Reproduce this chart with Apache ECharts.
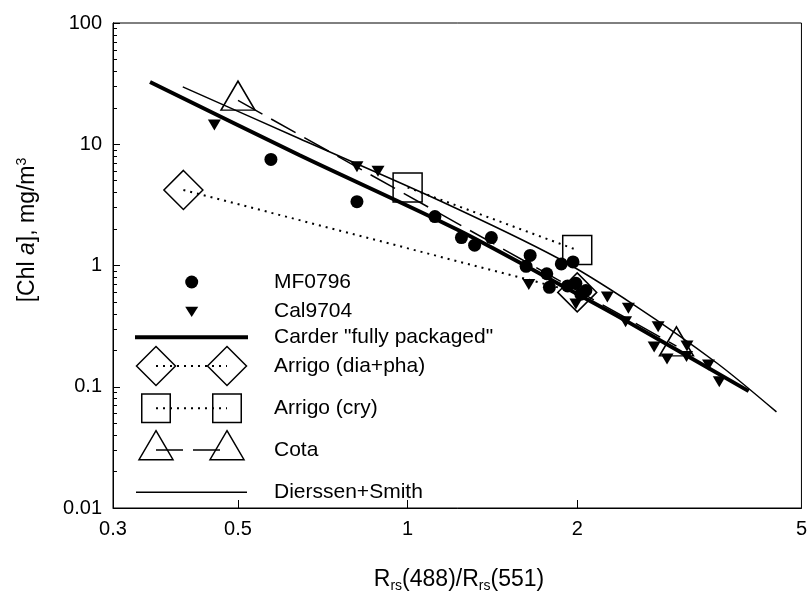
<!DOCTYPE html>
<html>
<head>
<meta charset="utf-8">
<script src="https://cdn.jsdelivr.net/npm/echarts@6/dist/echarts.min.js"></script>
<style>
  html, body { margin: 0; padding: 0; background: #fff; }
  #chart { width: 810px; height: 594px; }
</style>
</head>
<body>
<div id="chart"></div>
<script>
const FONT = '"Liberation Sans", Arial, Helvetica, sans-serif';

// Axis ticks and labels (ratio and concentration units)
const xTickLabels = [0.3, 0.5, 1, 2, 5];
const xTickMarks = [0.5, 1, 2];
const yTickLabels = [0.01, 0.1, 1, 10, 100];

// Field data: MF0796 cruise
const mf0796X = [0.572, 0.813, 1.118, 1.246, 1.315, 1.408, 1.650, 1.623, 1.766, 1.785, 1.874, 1.966, 1.923, 1.989, 2.072, 2.03];
const mf0796Y = [7.5, 3.36, 2.53, 1.70, 1.47, 1.70, 1.21, 0.985, 0.855, 0.661, 1.03, 1.07, 0.678, 0.713, 0.622, 0.58];

// Field data: Cal9704 cruise
const cal9704X = [0.454, 0.813, 0.886, 1.641, 1.989, 2.262, 2.465, 2.437, 2.784, 2.739, 2.887, 3.132, 3.126, 3.42, 3.574];
const cal9704Y = [14.4, 6.53, 6.0, 0.697, 0.481, 0.55, 0.444, 0.344, 0.313, 0.213, 0.169, 0.217, 0.178, 0.151, 0.110];

// Carder "fully packaged" algorithm curve
const carderX = [0.349, 0.642, 1.229, 2.0, 2.425, 4.03];
const carderY = [32.6, 8.15, 1.96, 0.582, 0.356, 0.092];

// Arrigo model end points
const arrigoDiaX = [0.4, 2.0];
const arrigoDiaY = [4.2, 0.6];
const arrigoCryX = [1.0, 2.0];
const arrigoCryY = [4.4, 1.34];

// Cota model end points
const cotaX = [0.5, 3.0];
const cotaY = [23, 0.216];

// Dierssen+Smith algorithm curve
const dierssenX = [0.399, 0.642, 1.133, 1.846, 2.525, 3.538, 4.515];
const dierssenY = [29.7, 11.15, 3.47, 1.153, 0.472, 0.157, 0.062];

const legendNames = ['MF0796', 'Cal9704', 'Carder "fully packaged"', 'Arrigo (dia+pha)', 'Arrigo (cry)', 'Cota', 'Dierssen+Smith'];

const L = Math.log10;
const pairs = (xs, ys) => xs.map((x, i) => [L(x), L(ys[i])]);
const fmt = v => String(parseFloat(Math.pow(10, v).toPrecision(3)));

// minor ticks at 2..9 within each decade
const yMinor = [];
for (let d = -2; d < 2; d++) {
  for (let k = 2; k <= 9; k++) yMinor.push(L(k * Math.pow(10, d)));
}

const black = '#000';
const hollow = { color: 'rgba(0,0,0,0)', borderColor: black, borderWidth: 1.5, opacity: 1 };

const series = [
  {
    name: legendNames[6], type: 'line', data: pairs(dierssenX, dierssenY),
    showSymbol: false, smooth: 0.3, lineStyle: { color: black, width: 1.5 }, z: 2
  },
  {
    name: legendNames[2], type: 'line', data: pairs(carderX, carderY),
    showSymbol: false, smooth: 0.3, lineStyle: { color: black, width: 4 }, z: 3
  },
  {
    name: legendNames[5], type: 'line', data: pairs(cotaX, cotaY),
    symbol: 'triangle', symbolSize: [34, 29], symbolOffset: [0, -4.8],
    itemStyle: hollow, lineStyle: { color: black, width: 1.5, type: [28, 10] }, z: 4
  },
  {
    name: legendNames[3], type: 'line', data: pairs(arrigoDiaX, arrigoDiaY),
    symbol: 'diamond', symbolSize: 39,
    itemStyle: hollow, lineStyle: { color: black, width: 2, type: [2, 5] }, z: 4
  },
  {
    name: legendNames[4], type: 'line', data: pairs(arrigoCryX, arrigoCryY),
    symbol: 'rect', symbolSize: 29,
    itemStyle: hollow, lineStyle: { color: black, width: 2, type: [2, 5] }, z: 4
  },
  {
    name: legendNames[0], type: 'scatter', data: pairs(mf0796X, mf0796Y),
    symbol: 'circle', symbolSize: 13, itemStyle: { color: black, opacity: 1 }, z: 5
  },
  {
    name: legendNames[1], type: 'scatter', data: pairs(cal9704X, cal9704Y),
    symbol: 'triangle', symbolRotate: 180, symbolSize: [13, 11], itemStyle: { color: black, opacity: 1 }, z: 5
  }
];

// Hand-laid legend block inside the plot area
const legendTextX = 274;
const legendRowsY = [282, 311.7, 337.3, 366, 408.3, 450, 492.3];
const symL = 156, symR = 227;
const graphics = [];
legendNames.forEach((name, i) => {
  graphics.push({
    type: 'text', x: legendTextX, y: legendRowsY[i],
    style: { text: name, font: '21px ' + FONT, fill: black, align: 'left', verticalAlign: 'middle' }
  });
});
const gStroke = { stroke: black, lineWidth: 1.5, fill: null };
// MF0796
graphics.push({ type: 'circle', shape: { cx: 191.7, cy: legendRowsY[0], r: 6.5 }, style: { fill: black } });
// Cal9704
graphics.push({ type: 'polygon', shape: { points: [[185.2, 306.7], [198.2, 306.7], [191.7, 317]] }, style: { fill: black } });
// Carder
graphics.push({ type: 'line', shape: { x1: 135, y1: legendRowsY[2], x2: 248, y2: legendRowsY[2] }, style: { stroke: black, lineWidth: 4 } });
// Arrigo (dia+pha)
{
  const y = legendRowsY[3], h = 19.5;
  graphics.push({ type: 'line', shape: { x1: symL, y1: y, x2: symR, y2: y }, style: { stroke: black, lineWidth: 2, lineDash: [2, 5] } });
  [symL, symR].forEach(cx => graphics.push({
    type: 'polygon', shape: { points: [[cx, y - h], [cx + h, y], [cx, y + h], [cx - h, y]] }, style: gStroke
  }));
}
// Arrigo (cry)
{
  const y = 408.2, s = 28.5;
  graphics.push({ type: 'line', shape: { x1: symL, y1: y, x2: symR, y2: y }, style: { stroke: black, lineWidth: 2, lineDash: [2, 5] } });
  [symL, symR].forEach(cx => graphics.push({
    type: 'rect', shape: { x: cx - s / 2, y: y - s / 2, width: s, height: s }, style: gStroke
  }));
}
// Cota
{
  const y = legendRowsY[5], w = 34, h = 29;
  graphics.push({ type: 'line', shape: { x1: symL, y1: y, x2: symR, y2: y }, style: { stroke: black, lineWidth: 1.5, lineDash: [27, 10] } });
  [symL, symR].forEach(cx => graphics.push({
    type: 'polygon', shape: { points: [[cx, y - h * 2 / 3], [cx + w / 2, y + h / 3], [cx - w / 2, y + h / 3]] }, style: gStroke
  }));
}
// Dierssen+Smith
graphics.push({ type: 'line', shape: { x1: 136, y1: legendRowsY[6], x2: 247, y2: legendRowsY[6] }, style: { stroke: black, lineWidth: 1.5 } });

// Axis titles
graphics.push({
  type: 'text', x: 28, y: 230, rotation: Math.PI / 2,
  style: {
    text: '{n|[Chl }{i|a}{n|], mg/m}{s|3}',
    rich: {
      n: { fontSize: 23, fontFamily: FONT, lineHeight: 26, fill: black },
      i: { fontSize: 23, fontFamily: FONT, fontStyle: 'italic', lineHeight: 26, fill: black },
      s: { fontSize: 14, fontFamily: FONT, lineHeight: 8, verticalAlign: 'top', fill: black }
    },
    align: 'center', verticalAlign: 'middle', fill: black
  }
});
graphics.push({
  type: 'text', x: 459, y: 580,
  style: {
    text: '{n|R}{b|rs}{n|(488)/R}{b|rs}{n|(551)}',
    rich: {
      n: { fontSize: 23, fontFamily: FONT, lineHeight: 26, fill: black },
      b: { fontSize: 14, fontFamily: FONT, lineHeight: 6, verticalAlign: 'bottom', fill: black }
    },
    align: 'center', verticalAlign: 'middle', fill: black
  }
});

const chart = echarts.init(document.getElementById('chart'), null, { renderer: 'canvas' });
chart.setOption({
  animation: false,
  backgroundColor: '#fff',
  grid: { left: 113, right: 5, top: 23, bottom: 86, show: true, borderColor: black, borderWidth: 1, backgroundColor: 'transparent' },
  xAxis: {
    type: 'value', min: L(xTickLabels[0]), max: L(xTickLabels[xTickLabels.length - 1]),
    axisLine: { onZero: false, lineStyle: { color: black, width: 1 } },
    axisTick: { inside: true, length: 8, customValues: xTickMarks.map(L), lineStyle: { color: black, width: 1 } },
    axisLabel: { customValues: xTickLabels.map(L), formatter: fmt, fontSize: 20, fontFamily: FONT, color: black, margin: 11 },
    splitLine: { show: false }
  },
  yAxis: [
    {
      type: 'value', min: L(yTickLabels[0]), max: L(yTickLabels[yTickLabels.length - 1]), interval: 1,
      axisLine: { onZero: false, lineStyle: { color: black, width: 1 } },
      axisTick: { inside: true, length: 7, lineStyle: { color: black, width: 1 } },
      axisLabel: { formatter: fmt, fontSize: 20, fontFamily: FONT, color: black, margin: 11 },
      splitLine: { show: false }
    },
    {
      type: 'value', position: 'left', offset: 0,
      min: L(yTickLabels[0]), max: L(yTickLabels[yTickLabels.length - 1]),
      axisLine: { show: true, onZero: false, lineStyle: { color: black, width: 1 } },
      axisTick: { show: true, inside: true, length: 4, customValues: yMinor, lineStyle: { color: black, width: 1 } },
      axisLabel: { show: false },
      splitLine: { show: false }
    }
  ],
  series: series,
  graphic: graphics
});
</script>
</body>
</html>
